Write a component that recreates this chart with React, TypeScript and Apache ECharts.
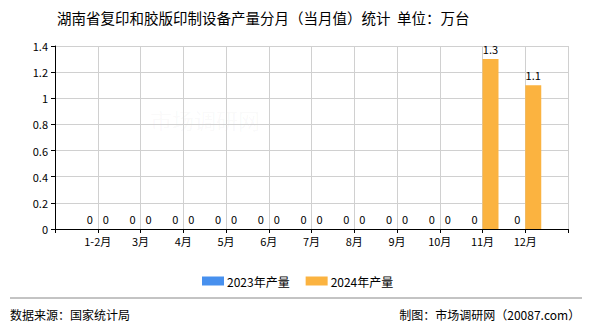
import React, { useEffect, useRef } from "react";
import * as echarts from "echarts";

const categories = ["1-2月", "3月", "4月", "5月", "6月", "7月", "8月", "9月", "10月", "11月", "12月"];
const values2023 = [0, 0, 0, 0, 0, 0, 0, 0, 0, 0, 0];
const values2024 = [0, 0, 0, 0, 0, 0, 0, 0, 0, 1.3, 1.1];
const yTicks = { min: 0, max: 1.4, interval: 0.2 };

const FONT = "'Noto Sans CJK SC', 'DejaVu Sans', sans-serif";

export default function App() {
  const ref = useRef<HTMLDivElement>(null);
  useEffect(() => {
    if (!ref.current) return;
    const chart = echarts.init(ref.current, null, { renderer: "svg" });
    const xData = ["", ...categories, ""];
    const pad = (arr: number[]) => ["-", ...arr, "-"];
    const label = {
      show: true,
      position: "top" as const,
      distance: 5,
      color: "#000",
      fontSize: 11,
      fontFamily: FONT,
    };
    chart.setOption({
      animation: false,
      backgroundColor: "#fff",
      textStyle: { fontFamily: FONT },
      title: {
        text: "湖南省复印和胶版印制设备产量分月（当月值）统计  单位：万台",
        left: 52,
        top: 5,
        textStyle: { fontSize: 14.5, fontWeight: "normal", color: "#000", fontFamily: FONT },
      },
      legend: {
        left: 197,
        top: 270,
        itemWidth: 22,
        itemHeight: 9,
        itemGap: 16,
        icon: "rect",
        textStyle: { fontSize: 12, color: "#000", fontFamily: FONT, padding: [0, 0, 0, -2] },
        data: ["2023年产量", "2024年产量"],
      },
      grid: { left: 55, right: 22, top: 46, bottom: 101, containLabel: false },
      xAxis: {
        type: "category",
        boundaryGap: false,
        data: xData,
        axisLine: { lineStyle: { color: "#000", width: 1 } },
        axisTick: { show: true, interval: 0, length: 4, lineStyle: { color: "#000" } },
        axisLabel: { interval: 0, color: "#000", fontSize: 11, fontFamily: FONT, margin: 6 },
        splitLine: { show: true, interval: 0, lineStyle: { color: "#d0d0d0" } },
      },
      yAxis: {
        type: "value",
        min: yTicks.min,
        max: yTicks.max,
        interval: yTicks.interval,
        axisLine: { show: true, lineStyle: { color: "#000", width: 1 } },
        axisTick: { show: true, length: 4, lineStyle: { color: "#000" } },
        axisLabel: { color: "#000", fontSize: 11, fontFamily: FONT, margin: 7 },
        splitLine: { show: true, lineStyle: { color: "#d0d0d0" } },
      },
      graphic: [
        {
          type: "text",
          left: 150,
          top: 108,
          style: { text: "市场调研网", fontSize: 22, fill: "rgba(120,120,120,0.045)", fontFamily: FONT },
        },
        {
          type: "line",
          shape: { x1: 10, y1: 298, x2: 582, y2: 298 },
          style: { stroke: "#888", lineWidth: 1 },
        },
        {
          type: "text",
          left: 10,
          top: 308,
          style: { text: "数据来源：国家统计局", fontSize: 12, fill: "#000", fontFamily: FONT },
        },
        {
          type: "text",
          right: 10,
          top: 308,
          style: { text: "制图：市场调研网（20087.com）", fontSize: 12, fill: "#000", fontFamily: FONT },
        },
      ],
      series: [
        {
          name: "2023年产量",
          type: "bar",
          data: pad(values2023),
          barWidth: 16,
          barGap: "0%",
          itemStyle: { color: "#4790EE" },
          label,
        },
        {
          name: "2024年产量",
          type: "bar",
          data: pad(values2024),
          barWidth: 16,
          barGap: "0%",
          itemStyle: { color: "#FBB340" },
          label,
        },
      ],
    });
    return () => chart.dispose();
  }, []);
  return <div ref={ref} style={{ width: 590, height: 330, position: "absolute", left: 0, top: 0 }} />;
}
